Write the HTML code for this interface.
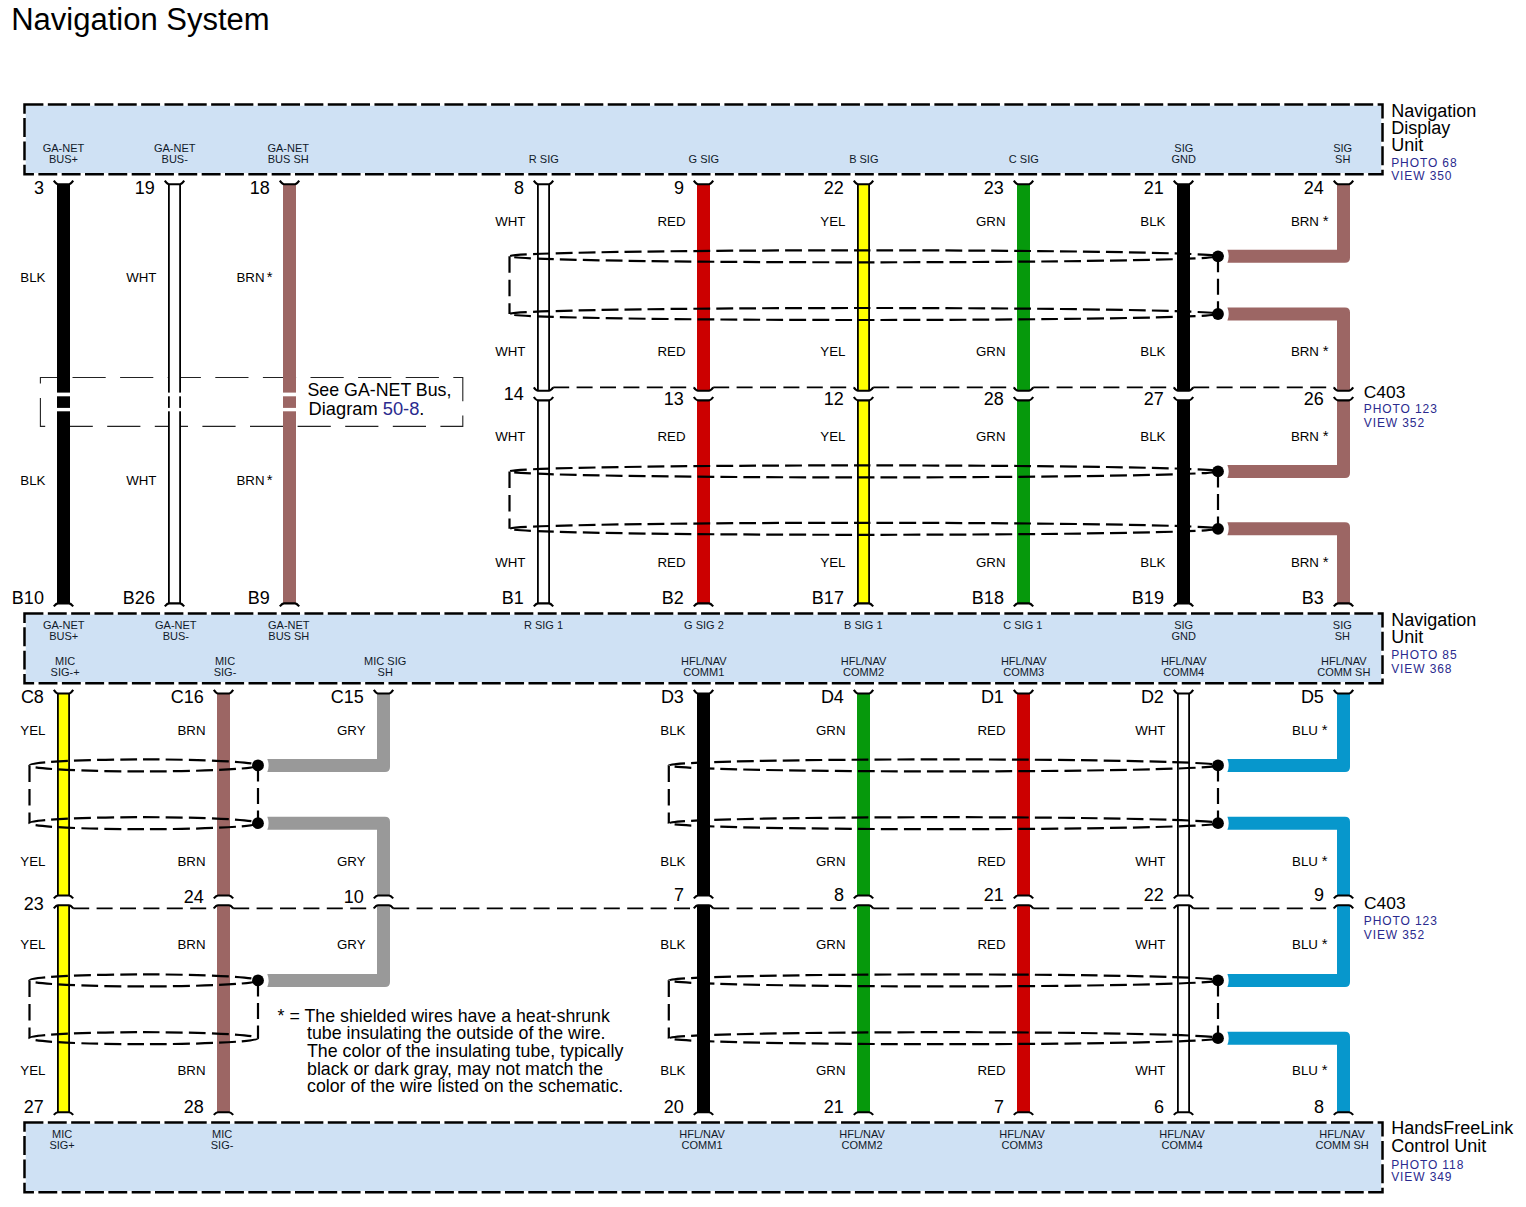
<!DOCTYPE html>
<html><head><meta charset="utf-8"><title>Navigation System</title>
<style>html,body{margin:0;padding:0;background:#fff;}svg{display:block;}</style></head>
<body><svg width="1526" height="1207" viewBox="0 0 1526 1207" font-family="'Liberation Sans', Arial, Helvetica, sans-serif">
<rect x="0" y="0" width="1526" height="1207" fill="#fff"/>
<text x="11.20" y="29.80" font-size="31" text-anchor="start" fill="#000">Navigation System</text>
<rect x="25.75" y="105.75" width="1355.5" height="67.19999999999999" fill="#cfe1f4"/>
<rect x="24.5" y="104.5" width="1358.0" height="69.69999999999999" fill="none" stroke="#000" stroke-width="2.5" stroke-dasharray="18.9 4.43"/>
<rect x="25.75" y="614.65" width="1355.5" height="67.39999999999998" fill="#cfe1f4"/>
<rect x="24.5" y="613.4" width="1358.0" height="69.89999999999998" fill="none" stroke="#000" stroke-width="2.5" stroke-dasharray="18.9 4.43"/>
<rect x="25.75" y="1123.75" width="1355.5" height="67.20000000000005" fill="#cfe1f4"/>
<rect x="24.5" y="1122.5" width="1358.0" height="69.70000000000005" fill="none" stroke="#000" stroke-width="2.5" stroke-dasharray="18.9 4.43"/>
<rect x="40.4" y="377.5" width="422.4" height="48.9" fill="none" stroke="#222" stroke-width="1.1" stroke-dasharray="33.2 14.4" stroke-dashoffset="15.5"/>
<rect x="57.0" y="184.2" width="13" height="418.90000000000003" fill="#000000"/>
<rect x="168.0" y="184.2" width="13" height="418.90000000000003" fill="#000"/>
<rect x="169.8" y="184.2" width="9.4" height="418.90000000000003" fill="#ffffff"/>
<rect x="283.0" y="184.2" width="13" height="418.90000000000003" fill="#9c6664"/>
<rect x="537.0" y="184.2" width="13" height="206.5" fill="#000"/>
<rect x="538.8" y="184.2" width="9.4" height="206.5" fill="#ffffff"/>
<rect x="537.0" y="400.4" width="13" height="202.70000000000005" fill="#000"/>
<rect x="538.8" y="400.4" width="9.4" height="202.70000000000005" fill="#ffffff"/>
<rect x="697.0" y="184.2" width="13" height="206.5" fill="#cc0000"/>
<rect x="697.0" y="400.4" width="13" height="202.70000000000005" fill="#cc0000"/>
<rect x="857.0" y="184.2" width="13" height="206.5" fill="#000"/>
<rect x="858.8" y="184.2" width="9.4" height="206.5" fill="#ffff00"/>
<rect x="857.0" y="400.4" width="13" height="202.70000000000005" fill="#000"/>
<rect x="858.8" y="400.4" width="9.4" height="202.70000000000005" fill="#ffff00"/>
<rect x="1017.0" y="184.2" width="13" height="206.5" fill="#06990c"/>
<rect x="1017.0" y="400.4" width="13" height="202.70000000000005" fill="#06990c"/>
<rect x="1177.0" y="184.2" width="13" height="206.5" fill="#000000"/>
<rect x="1177.0" y="400.4" width="13" height="202.70000000000005" fill="#000000"/>
<path d="M1350.00,184.20 L1350.00,257.80 Q1350.00,262.80 1345.00,262.80 L1227.40,262.80 Q1230.00,256.30 1227.40,249.80 L1337.00,249.80 L1337.00,184.20 Z" fill="#9c6664"/>
<path d="M1227.40,307.50 L1345.00,307.50 Q1350.00,307.50 1350.00,312.50 L1350.00,390.70 L1337.00,390.70 L1337.00,320.50 L1227.40,320.50 Q1230.00,314.00 1227.40,307.50 Z" fill="#9c6664"/>
<path d="M1350.00,400.40 L1350.00,472.90 Q1350.00,477.90 1345.00,477.90 L1227.40,477.90 Q1230.00,471.40 1227.40,464.90 L1337.00,464.90 L1337.00,400.40 Z" fill="#9c6664"/>
<path d="M1227.40,522.30 L1345.00,522.30 Q1350.00,522.30 1350.00,527.30 L1350.00,603.10 L1337.00,603.10 L1337.00,535.30 L1227.40,535.30 Q1230.00,528.80 1227.40,522.30 Z" fill="#9c6664"/>
<rect x="55.0" y="392.6" width="17" height="3.7" fill="#fff"/>
<rect x="55.0" y="407.9" width="17" height="3.4" fill="#fff"/>
<rect x="166.0" y="392.6" width="17" height="3.7" fill="#fff"/>
<rect x="166.0" y="407.9" width="17" height="3.4" fill="#fff"/>
<rect x="281.0" y="392.6" width="17" height="3.7" fill="#fff"/>
<rect x="281.0" y="407.9" width="17" height="3.4" fill="#fff"/>
<path d="M53.8,180.6 Q56.3,184.2 58.0,184.2 L69.0,184.2 Q70.7,184.2 73.2,180.6" fill="none" stroke="#000" stroke-width="2.1"/>
<path d="M53.8,606.4 Q56.3,603.4 58.0,603.4 L69.0,603.4 Q70.7,603.4 73.2,606.4" fill="none" stroke="#000" stroke-width="2.1"/>
<path d="M164.8,180.6 Q167.3,184.2 169.0,184.2 L180.0,184.2 Q181.7,184.2 184.2,180.6" fill="none" stroke="#000" stroke-width="2.1"/>
<path d="M164.8,606.4 Q167.3,603.4 169.0,603.4 L180.0,603.4 Q181.7,603.4 184.2,606.4" fill="none" stroke="#000" stroke-width="2.1"/>
<path d="M279.8,180.6 Q282.3,184.2 284.0,184.2 L295.0,184.2 Q296.7,184.2 299.2,180.6" fill="none" stroke="#000" stroke-width="2.1"/>
<path d="M279.8,606.4 Q282.3,603.4 284.0,603.4 L295.0,603.4 Q296.7,603.4 299.2,606.4" fill="none" stroke="#000" stroke-width="2.1"/>
<path d="M533.8,180.6 Q536.3,184.2 538.0,184.2 L549.0,184.2 Q550.7,184.2 553.2,180.6" fill="none" stroke="#000" stroke-width="2.1"/>
<path d="M533.8,606.4 Q536.3,603.4 538.0,603.4 L549.0,603.4 Q550.7,603.4 553.2,606.4" fill="none" stroke="#000" stroke-width="2.1"/>
<path d="M693.8,180.6 Q696.3,184.2 698.0,184.2 L709.0,184.2 Q710.7,184.2 713.2,180.6" fill="none" stroke="#000" stroke-width="2.1"/>
<path d="M693.8,606.4 Q696.3,603.4 698.0,603.4 L709.0,603.4 Q710.7,603.4 713.2,606.4" fill="none" stroke="#000" stroke-width="2.1"/>
<path d="M853.8,180.6 Q856.3,184.2 858.0,184.2 L869.0,184.2 Q870.7,184.2 873.2,180.6" fill="none" stroke="#000" stroke-width="2.1"/>
<path d="M853.8,606.4 Q856.3,603.4 858.0,603.4 L869.0,603.4 Q870.7,603.4 873.2,606.4" fill="none" stroke="#000" stroke-width="2.1"/>
<path d="M1013.8,180.6 Q1016.3,184.2 1018.0,184.2 L1029.0,184.2 Q1030.7,184.2 1033.2,180.6" fill="none" stroke="#000" stroke-width="2.1"/>
<path d="M1013.8,606.4 Q1016.3,603.4 1018.0,603.4 L1029.0,603.4 Q1030.7,603.4 1033.2,606.4" fill="none" stroke="#000" stroke-width="2.1"/>
<path d="M1173.8,180.6 Q1176.3,184.2 1178.0,184.2 L1189.0,184.2 Q1190.7,184.2 1193.2,180.6" fill="none" stroke="#000" stroke-width="2.1"/>
<path d="M1173.8,606.4 Q1176.3,603.4 1178.0,603.4 L1189.0,603.4 Q1190.7,603.4 1193.2,606.4" fill="none" stroke="#000" stroke-width="2.1"/>
<path d="M1333.8,180.6 Q1336.3,184.2 1338.0,184.2 L1349.0,184.2 Q1350.7,184.2 1353.2,180.6" fill="none" stroke="#000" stroke-width="2.1"/>
<path d="M1333.8,606.4 Q1336.3,603.4 1338.0,603.4 L1349.0,603.4 Q1350.7,603.4 1353.2,606.4" fill="none" stroke="#000" stroke-width="2.1"/>
<path d="M533.8,387.3 Q536.3,390.7 538.0,390.7 L549.0,390.7 Q550.7,390.7 553.2,387.3" fill="none" stroke="#000" stroke-width="2.1"/>
<path d="M533.8,397.0 Q536.3,400.4 538.0,400.4 L549.0,400.4 Q550.7,400.4 553.2,397.0" fill="none" stroke="#000" stroke-width="2.1"/>
<path d="M693.8,387.3 Q696.3,390.7 698.0,390.7 L709.0,390.7 Q710.7,390.7 713.2,387.3" fill="none" stroke="#000" stroke-width="2.1"/>
<path d="M693.8,397.0 Q696.3,400.4 698.0,400.4 L709.0,400.4 Q710.7,400.4 713.2,397.0" fill="none" stroke="#000" stroke-width="2.1"/>
<path d="M853.8,387.3 Q856.3,390.7 858.0,390.7 L869.0,390.7 Q870.7,390.7 873.2,387.3" fill="none" stroke="#000" stroke-width="2.1"/>
<path d="M853.8,397.0 Q856.3,400.4 858.0,400.4 L869.0,400.4 Q870.7,400.4 873.2,397.0" fill="none" stroke="#000" stroke-width="2.1"/>
<path d="M1013.8,387.3 Q1016.3,390.7 1018.0,390.7 L1029.0,390.7 Q1030.7,390.7 1033.2,387.3" fill="none" stroke="#000" stroke-width="2.1"/>
<path d="M1013.8,397.0 Q1016.3,400.4 1018.0,400.4 L1029.0,400.4 Q1030.7,400.4 1033.2,397.0" fill="none" stroke="#000" stroke-width="2.1"/>
<path d="M1173.8,387.3 Q1176.3,390.7 1178.0,390.7 L1189.0,390.7 Q1190.7,390.7 1193.2,387.3" fill="none" stroke="#000" stroke-width="2.1"/>
<path d="M1173.8,397.0 Q1176.3,400.4 1178.0,400.4 L1189.0,400.4 Q1190.7,400.4 1193.2,397.0" fill="none" stroke="#000" stroke-width="2.1"/>
<path d="M1333.8,387.3 Q1336.3,390.7 1338.0,390.7 L1349.0,390.7 Q1350.7,390.7 1353.2,387.3" fill="none" stroke="#000" stroke-width="2.1"/>
<path d="M1333.8,397.0 Q1336.3,400.4 1338.0,400.4 L1349.0,400.4 Q1350.7,400.4 1353.2,397.0" fill="none" stroke="#000" stroke-width="2.1"/>
<line x1="553.2" y1="387.3" x2="693.8" y2="387.3" stroke="#000" stroke-width="1.8" stroke-dasharray="16 7.4"/>
<line x1="713.2" y1="387.3" x2="853.8" y2="387.3" stroke="#000" stroke-width="1.8" stroke-dasharray="16 7.4"/>
<line x1="873.2" y1="387.3" x2="1013.8" y2="387.3" stroke="#000" stroke-width="1.8" stroke-dasharray="16 7.4"/>
<line x1="1033.2" y1="387.3" x2="1173.8" y2="387.3" stroke="#000" stroke-width="1.8" stroke-dasharray="16 7.4"/>
<line x1="1193.2" y1="387.3" x2="1333.8" y2="387.3" stroke="#000" stroke-width="1.8" stroke-dasharray="16 7.4"/>
<ellipse cx="863.75" cy="256.3" rx="354.25" ry="6.0" fill="none" stroke="#000" stroke-width="2.2" stroke-dasharray="16.8 6.1"/>
<ellipse cx="863.75" cy="314.0" rx="354.25" ry="6.0" fill="none" stroke="#000" stroke-width="2.2" stroke-dasharray="16.8 6.1"/>
<line x1="509.5" y1="256.3" x2="509.5" y2="314.0" stroke="#000" stroke-width="2.2" stroke-dasharray="16.5 7"/>
<line x1="1218" y1="256.3" x2="1218" y2="314.0" stroke="#000" stroke-width="2.2" stroke-dasharray="16 6.5"/>
<circle cx="1218" cy="256.3" r="5.9" fill="#000"/>
<circle cx="1218" cy="314.0" r="5.9" fill="#000"/>
<ellipse cx="863.75" cy="471.4" rx="354.25" ry="6.0" fill="none" stroke="#000" stroke-width="2.2" stroke-dasharray="16.8 6.1"/>
<ellipse cx="863.75" cy="528.8" rx="354.25" ry="6.0" fill="none" stroke="#000" stroke-width="2.2" stroke-dasharray="16.8 6.1"/>
<line x1="509.5" y1="471.4" x2="509.5" y2="528.8" stroke="#000" stroke-width="2.2" stroke-dasharray="16.5 7"/>
<line x1="1218" y1="471.4" x2="1218" y2="528.8" stroke="#000" stroke-width="2.2" stroke-dasharray="16 6.5"/>
<circle cx="1218" cy="471.4" r="5.9" fill="#000"/>
<circle cx="1218" cy="528.8" r="5.9" fill="#000"/>
<rect x="57.0" y="693.5999999999999" width="13" height="202.0000000000001" fill="#000"/>
<rect x="58.8" y="693.5999999999999" width="9.4" height="202.0000000000001" fill="#ffff00"/>
<rect x="57.0" y="905.0" width="13" height="207.20000000000005" fill="#000"/>
<rect x="58.8" y="905.0" width="9.4" height="207.20000000000005" fill="#ffff00"/>
<rect x="217.0" y="693.5999999999999" width="13" height="202.0000000000001" fill="#9c6664"/>
<rect x="217.0" y="905.0" width="13" height="207.20000000000005" fill="#9c6664"/>
<rect x="697.0" y="693.5999999999999" width="13" height="202.0000000000001" fill="#000000"/>
<rect x="697.0" y="905.0" width="13" height="207.20000000000005" fill="#000000"/>
<rect x="857.0" y="693.5999999999999" width="13" height="202.0000000000001" fill="#06990c"/>
<rect x="857.0" y="905.0" width="13" height="207.20000000000005" fill="#06990c"/>
<rect x="1017.0" y="693.5999999999999" width="13" height="202.0000000000001" fill="#cc0000"/>
<rect x="1017.0" y="905.0" width="13" height="207.20000000000005" fill="#cc0000"/>
<rect x="1177.0" y="693.5999999999999" width="13" height="202.0000000000001" fill="#000"/>
<rect x="1178.8" y="693.5999999999999" width="9.4" height="202.0000000000001" fill="#ffffff"/>
<rect x="1177.0" y="905.0" width="13" height="207.20000000000005" fill="#000"/>
<rect x="1178.8" y="905.0" width="9.4" height="207.20000000000005" fill="#ffffff"/>
<path d="M390.00,693.60 L390.00,766.90 Q390.00,771.90 385.00,771.90 L267.30,771.90 Q269.90,765.40 267.30,758.90 L377.00,758.90 L377.00,693.60 Z" fill="#999999"/>
<path d="M267.30,816.70 L385.00,816.70 Q390.00,816.70 390.00,821.70 L390.00,895.60 L377.00,895.60 L377.00,829.70 L267.30,829.70 Q269.90,823.20 267.30,816.70 Z" fill="#999999"/>
<path d="M390.00,905.00 L390.00,981.90 Q390.00,986.90 385.00,986.90 L267.30,986.90 Q269.90,980.40 267.30,973.90 L377.00,973.90 L377.00,905.00 Z" fill="#999999"/>
<path d="M1350.00,693.60 L1350.00,766.90 Q1350.00,771.90 1345.00,771.90 L1227.40,771.90 Q1230.00,765.40 1227.40,758.90 L1337.00,758.90 L1337.00,693.60 Z" fill="#0797cc"/>
<path d="M1227.40,816.70 L1345.00,816.70 Q1350.00,816.70 1350.00,821.70 L1350.00,895.60 L1337.00,895.60 L1337.00,829.70 L1227.40,829.70 Q1230.00,823.20 1227.40,816.70 Z" fill="#0797cc"/>
<path d="M1350.00,905.00 L1350.00,981.90 Q1350.00,986.90 1345.00,986.90 L1227.40,986.90 Q1230.00,980.40 1227.40,973.90 L1337.00,973.90 L1337.00,905.00 Z" fill="#0797cc"/>
<path d="M1227.40,1031.70 L1345.00,1031.70 Q1350.00,1031.70 1350.00,1036.70 L1350.00,1112.20 L1337.00,1112.20 L1337.00,1044.70 L1227.40,1044.70 Q1230.00,1038.20 1227.40,1031.70 Z" fill="#0797cc"/>
<path d="M53.8,689.9 Q56.3,693.5 58.0,693.5 L69.0,693.5 Q70.7,693.5 73.2,689.9" fill="none" stroke="#000" stroke-width="2.1"/>
<path d="M53.8,898.4 Q56.3,895.5 58.0,895.5 L69.0,895.5 Q70.7,895.5 73.2,898.4" fill="none" stroke="#000" stroke-width="2.1"/>
<path d="M53.8,908.3 Q56.3,905.1999999999999 58.0,905.1999999999999 L69.0,905.1999999999999 Q70.7,905.1999999999999 73.2,908.3" fill="none" stroke="#000" stroke-width="2.1"/>
<path d="M213.8,689.9 Q216.3,693.5 218.0,693.5 L229.0,693.5 Q230.7,693.5 233.2,689.9" fill="none" stroke="#000" stroke-width="2.1"/>
<path d="M213.8,898.4 Q216.3,895.5 218.0,895.5 L229.0,895.5 Q230.7,895.5 233.2,898.4" fill="none" stroke="#000" stroke-width="2.1"/>
<path d="M213.8,908.3 Q216.3,905.1999999999999 218.0,905.1999999999999 L229.0,905.1999999999999 Q230.7,905.1999999999999 233.2,908.3" fill="none" stroke="#000" stroke-width="2.1"/>
<path d="M373.8,689.9 Q376.3,693.5 378.0,693.5 L389.0,693.5 Q390.7,693.5 393.2,689.9" fill="none" stroke="#000" stroke-width="2.1"/>
<path d="M373.8,898.4 Q376.3,895.5 378.0,895.5 L389.0,895.5 Q390.7,895.5 393.2,898.4" fill="none" stroke="#000" stroke-width="2.1"/>
<path d="M373.8,908.3 Q376.3,905.1999999999999 378.0,905.1999999999999 L389.0,905.1999999999999 Q390.7,905.1999999999999 393.2,908.3" fill="none" stroke="#000" stroke-width="2.1"/>
<path d="M693.8,689.9 Q696.3,693.5 698.0,693.5 L709.0,693.5 Q710.7,693.5 713.2,689.9" fill="none" stroke="#000" stroke-width="2.1"/>
<path d="M693.8,898.4 Q696.3,895.5 698.0,895.5 L709.0,895.5 Q710.7,895.5 713.2,898.4" fill="none" stroke="#000" stroke-width="2.1"/>
<path d="M693.8,908.3 Q696.3,905.1999999999999 698.0,905.1999999999999 L709.0,905.1999999999999 Q710.7,905.1999999999999 713.2,908.3" fill="none" stroke="#000" stroke-width="2.1"/>
<path d="M853.8,689.9 Q856.3,693.5 858.0,693.5 L869.0,693.5 Q870.7,693.5 873.2,689.9" fill="none" stroke="#000" stroke-width="2.1"/>
<path d="M853.8,898.4 Q856.3,895.5 858.0,895.5 L869.0,895.5 Q870.7,895.5 873.2,898.4" fill="none" stroke="#000" stroke-width="2.1"/>
<path d="M853.8,908.3 Q856.3,905.1999999999999 858.0,905.1999999999999 L869.0,905.1999999999999 Q870.7,905.1999999999999 873.2,908.3" fill="none" stroke="#000" stroke-width="2.1"/>
<path d="M1013.8,689.9 Q1016.3,693.5 1018.0,693.5 L1029.0,693.5 Q1030.7,693.5 1033.2,689.9" fill="none" stroke="#000" stroke-width="2.1"/>
<path d="M1013.8,898.4 Q1016.3,895.5 1018.0,895.5 L1029.0,895.5 Q1030.7,895.5 1033.2,898.4" fill="none" stroke="#000" stroke-width="2.1"/>
<path d="M1013.8,908.3 Q1016.3,905.1999999999999 1018.0,905.1999999999999 L1029.0,905.1999999999999 Q1030.7,905.1999999999999 1033.2,908.3" fill="none" stroke="#000" stroke-width="2.1"/>
<path d="M1173.8,689.9 Q1176.3,693.5 1178.0,693.5 L1189.0,693.5 Q1190.7,693.5 1193.2,689.9" fill="none" stroke="#000" stroke-width="2.1"/>
<path d="M1173.8,898.4 Q1176.3,895.5 1178.0,895.5 L1189.0,895.5 Q1190.7,895.5 1193.2,898.4" fill="none" stroke="#000" stroke-width="2.1"/>
<path d="M1173.8,908.3 Q1176.3,905.1999999999999 1178.0,905.1999999999999 L1189.0,905.1999999999999 Q1190.7,905.1999999999999 1193.2,908.3" fill="none" stroke="#000" stroke-width="2.1"/>
<path d="M1333.8,689.9 Q1336.3,693.5 1338.0,693.5 L1349.0,693.5 Q1350.7,693.5 1353.2,689.9" fill="none" stroke="#000" stroke-width="2.1"/>
<path d="M1333.8,898.4 Q1336.3,895.5 1338.0,895.5 L1349.0,895.5 Q1350.7,895.5 1353.2,898.4" fill="none" stroke="#000" stroke-width="2.1"/>
<path d="M1333.8,908.3 Q1336.3,905.1999999999999 1338.0,905.1999999999999 L1349.0,905.1999999999999 Q1350.7,905.1999999999999 1353.2,908.3" fill="none" stroke="#000" stroke-width="2.1"/>
<path d="M53.8,1114.9 Q56.3,1112.2 58.0,1112.2 L69.0,1112.2 Q70.7,1112.2 73.2,1114.9" fill="none" stroke="#000" stroke-width="2.1"/>
<path d="M213.8,1114.9 Q216.3,1112.2 218.0,1112.2 L229.0,1112.2 Q230.7,1112.2 233.2,1114.9" fill="none" stroke="#000" stroke-width="2.1"/>
<path d="M693.8,1114.9 Q696.3,1112.2 698.0,1112.2 L709.0,1112.2 Q710.7,1112.2 713.2,1114.9" fill="none" stroke="#000" stroke-width="2.1"/>
<path d="M853.8,1114.9 Q856.3,1112.2 858.0,1112.2 L869.0,1112.2 Q870.7,1112.2 873.2,1114.9" fill="none" stroke="#000" stroke-width="2.1"/>
<path d="M1013.8,1114.9 Q1016.3,1112.2 1018.0,1112.2 L1029.0,1112.2 Q1030.7,1112.2 1033.2,1114.9" fill="none" stroke="#000" stroke-width="2.1"/>
<path d="M1173.8,1114.9 Q1176.3,1112.2 1178.0,1112.2 L1189.0,1112.2 Q1190.7,1112.2 1193.2,1114.9" fill="none" stroke="#000" stroke-width="2.1"/>
<path d="M1333.8,1114.9 Q1336.3,1112.2 1338.0,1112.2 L1349.0,1112.2 Q1350.7,1112.2 1353.2,1114.9" fill="none" stroke="#000" stroke-width="2.1"/>
<line x1="73.2" y1="908.4" x2="213.8" y2="908.4" stroke="#000" stroke-width="1.8" stroke-dasharray="16 7.4"/>
<line x1="233.2" y1="908.4" x2="373.8" y2="908.4" stroke="#000" stroke-width="1.8" stroke-dasharray="16 7.4"/>
<line x1="393.2" y1="908.4" x2="693.8" y2="908.4" stroke="#000" stroke-width="1.8" stroke-dasharray="16 7.4"/>
<line x1="713.2" y1="908.4" x2="853.8" y2="908.4" stroke="#000" stroke-width="1.8" stroke-dasharray="16 7.4"/>
<line x1="873.2" y1="908.4" x2="1013.8" y2="908.4" stroke="#000" stroke-width="1.8" stroke-dasharray="16 7.4"/>
<line x1="1033.2" y1="908.4" x2="1173.8" y2="908.4" stroke="#000" stroke-width="1.8" stroke-dasharray="16 7.4"/>
<line x1="1193.2" y1="908.4" x2="1333.8" y2="908.4" stroke="#000" stroke-width="1.8" stroke-dasharray="16 7.4"/>
<ellipse cx="143.75" cy="765.4" rx="114.25" ry="6.0" fill="none" stroke="#000" stroke-width="2.2" stroke-dasharray="16.8 6.1"/>
<ellipse cx="143.75" cy="823.2" rx="114.25" ry="6.0" fill="none" stroke="#000" stroke-width="2.2" stroke-dasharray="16.8 6.1"/>
<line x1="29.5" y1="765.4" x2="29.5" y2="823.2" stroke="#000" stroke-width="2.2" stroke-dasharray="16.5 7"/>
<line x1="258" y1="765.4" x2="258" y2="823.2" stroke="#000" stroke-width="2.2" stroke-dasharray="16 6.5"/>
<circle cx="258" cy="765.4" r="5.9" fill="#000"/>
<circle cx="258" cy="823.2" r="5.9" fill="#000"/>
<ellipse cx="143.75" cy="980.4" rx="114.25" ry="6.0" fill="none" stroke="#000" stroke-width="2.2" stroke-dasharray="16.8 6.1"/>
<ellipse cx="143.75" cy="1038.2" rx="114.25" ry="6.0" fill="none" stroke="#000" stroke-width="2.2" stroke-dasharray="16.8 6.1"/>
<line x1="29.5" y1="980.4" x2="29.5" y2="1038.2" stroke="#000" stroke-width="2.2" stroke-dasharray="16.5 7"/>
<line x1="258" y1="980.4" x2="258" y2="1038.2" stroke="#000" stroke-width="2.2" stroke-dasharray="16 6.5"/>
<circle cx="258" cy="980.4" r="5.9" fill="#000"/>
<ellipse cx="943.4" cy="765.4" rx="274.6" ry="6.0" fill="none" stroke="#000" stroke-width="2.2" stroke-dasharray="16.8 6.1"/>
<ellipse cx="943.4" cy="823.2" rx="274.6" ry="6.0" fill="none" stroke="#000" stroke-width="2.2" stroke-dasharray="16.8 6.1"/>
<line x1="668.8" y1="765.4" x2="668.8" y2="823.2" stroke="#000" stroke-width="2.2" stroke-dasharray="16.5 7"/>
<line x1="1218" y1="765.4" x2="1218" y2="823.2" stroke="#000" stroke-width="2.2" stroke-dasharray="16 6.5"/>
<circle cx="1218" cy="765.4" r="5.9" fill="#000"/>
<circle cx="1218" cy="823.2" r="5.9" fill="#000"/>
<ellipse cx="943.4" cy="980.4" rx="274.6" ry="6.0" fill="none" stroke="#000" stroke-width="2.2" stroke-dasharray="16.8 6.1"/>
<ellipse cx="943.4" cy="1038.2" rx="274.6" ry="6.0" fill="none" stroke="#000" stroke-width="2.2" stroke-dasharray="16.8 6.1"/>
<line x1="668.8" y1="980.4" x2="668.8" y2="1038.2" stroke="#000" stroke-width="2.2" stroke-dasharray="16.5 7"/>
<line x1="1218" y1="980.4" x2="1218" y2="1038.2" stroke="#000" stroke-width="2.2" stroke-dasharray="16 6.5"/>
<circle cx="1218" cy="980.4" r="5.9" fill="#000"/>
<circle cx="1218" cy="1038.2" r="5.9" fill="#000"/>
<text x="63.50" y="151.60" font-size="11" text-anchor="middle" fill="#111a2a">GA-NET</text>
<text x="63.50" y="163.40" font-size="11" text-anchor="middle" fill="#111a2a">BUS+</text>
<text x="174.70" y="151.60" font-size="11" text-anchor="middle" fill="#111a2a">GA-NET</text>
<text x="174.70" y="163.40" font-size="11" text-anchor="middle" fill="#111a2a">BUS-</text>
<text x="288.20" y="151.60" font-size="11" text-anchor="middle" fill="#111a2a">GA-NET</text>
<text x="288.20" y="163.40" font-size="11" text-anchor="middle" fill="#111a2a">BUS SH</text>
<text x="543.80" y="163.00" font-size="11" text-anchor="middle" fill="#111a2a">R SIG</text>
<text x="703.80" y="163.00" font-size="11" text-anchor="middle" fill="#111a2a">G SIG</text>
<text x="863.80" y="163.00" font-size="11" text-anchor="middle" fill="#111a2a">B SIG</text>
<text x="1023.80" y="163.00" font-size="11" text-anchor="middle" fill="#111a2a">C SIG</text>
<text x="1183.80" y="151.60" font-size="11" text-anchor="middle" fill="#111a2a">SIG</text>
<text x="1183.80" y="163.40" font-size="11" text-anchor="middle" fill="#111a2a">GND</text>
<text x="1342.70" y="151.60" font-size="11" text-anchor="middle" fill="#111a2a">SIG</text>
<text x="1342.70" y="163.40" font-size="11" text-anchor="middle" fill="#111a2a">SH</text>
<text x="1391.20" y="116.70" font-size="18.0" text-anchor="start" fill="#000">Navigation</text>
<text x="1391.20" y="134.30" font-size="18.0" text-anchor="start" fill="#000">Display</text>
<text x="1391.20" y="151.40" font-size="18.0" text-anchor="start" fill="#000">Unit</text>
<text x="1391.20" y="167.30" font-size="12" text-anchor="start" fill="#2a2a8e" letter-spacing="0.9">PHOTO 68</text>
<text x="1391.20" y="180.30" font-size="12" text-anchor="start" fill="#2a2a8e" letter-spacing="0.9">VIEW 350</text>
<text x="1391.20" y="626.30" font-size="18.0" text-anchor="start" fill="#000">Navigation</text>
<text x="1391.20" y="643.30" font-size="18.0" text-anchor="start" fill="#000">Unit</text>
<text x="1391.20" y="659.00" font-size="12" text-anchor="start" fill="#2a2a8e" letter-spacing="0.9">PHOTO 85</text>
<text x="1391.20" y="673.00" font-size="12" text-anchor="start" fill="#2a2a8e" letter-spacing="0.9">VIEW 368</text>
<text x="1391.20" y="1134.30" font-size="18.0" text-anchor="start" fill="#000">HandsFreeLink</text>
<text x="1391.20" y="1152.30" font-size="18.0" text-anchor="start" fill="#000">Control Unit</text>
<text x="1391.20" y="1168.70" font-size="12" text-anchor="start" fill="#2a2a8e" letter-spacing="0.9">PHOTO 118</text>
<text x="1391.20" y="1181.30" font-size="12" text-anchor="start" fill="#2a2a8e" letter-spacing="0.9">VIEW 349</text>
<text x="43.90" y="193.90" font-size="18.0" text-anchor="end" fill="#000">3</text>
<text x="154.90" y="193.90" font-size="18.0" text-anchor="end" fill="#000">19</text>
<text x="269.90" y="193.90" font-size="18.0" text-anchor="end" fill="#000">18</text>
<text x="523.90" y="193.90" font-size="18.0" text-anchor="end" fill="#000">8</text>
<text x="683.90" y="193.90" font-size="18.0" text-anchor="end" fill="#000">9</text>
<text x="843.90" y="193.90" font-size="18.0" text-anchor="end" fill="#000">22</text>
<text x="1003.90" y="193.90" font-size="18.0" text-anchor="end" fill="#000">23</text>
<text x="1163.90" y="193.90" font-size="18.0" text-anchor="end" fill="#000">21</text>
<text x="1323.90" y="193.90" font-size="18.0" text-anchor="end" fill="#000">24</text>
<text x="43.90" y="603.70" font-size="18.0" text-anchor="end" fill="#000">B10</text>
<text x="154.90" y="603.70" font-size="18.0" text-anchor="end" fill="#000">B26</text>
<text x="269.90" y="603.70" font-size="18.0" text-anchor="end" fill="#000">B9</text>
<text x="523.90" y="603.70" font-size="18.0" text-anchor="end" fill="#000">B1</text>
<text x="683.90" y="603.70" font-size="18.0" text-anchor="end" fill="#000">B2</text>
<text x="843.90" y="603.70" font-size="18.0" text-anchor="end" fill="#000">B17</text>
<text x="1003.90" y="603.70" font-size="18.0" text-anchor="end" fill="#000">B18</text>
<text x="1163.90" y="603.70" font-size="18.0" text-anchor="end" fill="#000">B19</text>
<text x="1323.90" y="603.70" font-size="18.0" text-anchor="end" fill="#000">B3</text>
<text x="523.90" y="399.90" font-size="18.0" text-anchor="end" fill="#000">14</text>
<text x="683.90" y="404.60" font-size="18.0" text-anchor="end" fill="#000">13</text>
<text x="843.90" y="404.60" font-size="18.0" text-anchor="end" fill="#000">12</text>
<text x="1003.90" y="404.60" font-size="18.0" text-anchor="end" fill="#000">28</text>
<text x="1163.90" y="404.60" font-size="18.0" text-anchor="end" fill="#000">27</text>
<text x="1323.90" y="404.60" font-size="18.0" text-anchor="end" fill="#000">26</text>
<text x="45.50" y="282.20" font-size="13.3" text-anchor="end" fill="#000">BLK</text>
<text x="45.50" y="485.00" font-size="13.3" text-anchor="end" fill="#000">BLK</text>
<text x="156.50" y="282.20" font-size="13.3" text-anchor="end" fill="#000">WHT</text>
<text x="156.50" y="485.00" font-size="13.3" text-anchor="end" fill="#000">WHT</text>
<text x="272.45" y="282.20" font-size="13.3" text-anchor="end" xml:space="preserve">BRN<tspan dx="2.2" font-size="14.8">*</tspan></text>
<text x="272.45" y="485.00" font-size="13.3" text-anchor="end" xml:space="preserve">BRN<tspan dx="2.2" font-size="14.8">*</tspan></text>
<text x="525.50" y="226.00" font-size="13.3" text-anchor="end" fill="#000">WHT</text>
<text x="525.50" y="356.20" font-size="13.3" text-anchor="end" fill="#000">WHT</text>
<text x="525.50" y="440.90" font-size="13.3" text-anchor="end" fill="#000">WHT</text>
<text x="525.50" y="566.70" font-size="13.3" text-anchor="end" fill="#000">WHT</text>
<text x="685.50" y="226.00" font-size="13.3" text-anchor="end" fill="#000">RED</text>
<text x="685.50" y="356.20" font-size="13.3" text-anchor="end" fill="#000">RED</text>
<text x="685.50" y="440.90" font-size="13.3" text-anchor="end" fill="#000">RED</text>
<text x="685.50" y="566.70" font-size="13.3" text-anchor="end" fill="#000">RED</text>
<text x="845.50" y="226.00" font-size="13.3" text-anchor="end" fill="#000">YEL</text>
<text x="845.50" y="356.20" font-size="13.3" text-anchor="end" fill="#000">YEL</text>
<text x="845.50" y="440.90" font-size="13.3" text-anchor="end" fill="#000">YEL</text>
<text x="845.50" y="566.70" font-size="13.3" text-anchor="end" fill="#000">YEL</text>
<text x="1005.50" y="226.00" font-size="13.3" text-anchor="end" fill="#000">GRN</text>
<text x="1005.50" y="356.20" font-size="13.3" text-anchor="end" fill="#000">GRN</text>
<text x="1005.50" y="440.90" font-size="13.3" text-anchor="end" fill="#000">GRN</text>
<text x="1005.50" y="566.70" font-size="13.3" text-anchor="end" fill="#000">GRN</text>
<text x="1165.50" y="226.00" font-size="13.3" text-anchor="end" fill="#000">BLK</text>
<text x="1165.50" y="356.20" font-size="13.3" text-anchor="end" fill="#000">BLK</text>
<text x="1165.50" y="440.90" font-size="13.3" text-anchor="end" fill="#000">BLK</text>
<text x="1165.50" y="566.70" font-size="13.3" text-anchor="end" fill="#000">BLK</text>
<text x="1328.45" y="226.00" font-size="13.3" text-anchor="end" xml:space="preserve">BRN <tspan font-size="14.8">*</tspan></text>
<text x="1328.45" y="356.20" font-size="13.3" text-anchor="end" xml:space="preserve">BRN <tspan font-size="14.8">*</tspan></text>
<text x="1328.45" y="440.90" font-size="13.3" text-anchor="end" xml:space="preserve">BRN <tspan font-size="14.8">*</tspan></text>
<text x="1328.45" y="566.70" font-size="13.3" text-anchor="end" xml:space="preserve">BRN <tspan font-size="14.8">*</tspan></text>
<text x="1363.80" y="398.40" font-size="17.4" text-anchor="start" fill="#000">C403</text>
<text x="1363.80" y="413.30" font-size="12" text-anchor="start" fill="#2a2a8e" letter-spacing="0.9">PHOTO 123</text>
<text x="1363.80" y="427.30" font-size="12" text-anchor="start" fill="#2a2a8e" letter-spacing="0.9">VIEW 352</text>
<text x="1364.00" y="909.40" font-size="17.4" text-anchor="start" fill="#000">C403</text>
<text x="1363.80" y="925.00" font-size="12" text-anchor="start" fill="#2a2a8e" letter-spacing="0.9">PHOTO 123</text>
<text x="1363.80" y="938.60" font-size="12" text-anchor="start" fill="#2a2a8e" letter-spacing="0.9">VIEW 352</text>
<text x="307.50" y="396.40" font-size="17.8" text-anchor="start" fill="#000">See GA-NET Bus,</text>
<text x="308.6" y="415.4" font-size="18.3">Diagram <tspan fill="#2a2a8e">50-8</tspan>.</text>
<text x="63.70" y="628.70" font-size="11" text-anchor="middle" fill="#111a2a">GA-NET</text>
<text x="63.70" y="639.80" font-size="11" text-anchor="middle" fill="#111a2a">BUS+</text>
<text x="175.80" y="628.70" font-size="11" text-anchor="middle" fill="#111a2a">GA-NET</text>
<text x="175.80" y="639.80" font-size="11" text-anchor="middle" fill="#111a2a">BUS-</text>
<text x="288.80" y="628.70" font-size="11" text-anchor="middle" fill="#111a2a">GA-NET</text>
<text x="288.80" y="639.80" font-size="11" text-anchor="middle" fill="#111a2a">BUS SH</text>
<text x="543.50" y="628.70" font-size="11" text-anchor="middle" fill="#111a2a">R SIG 1</text>
<text x="703.90" y="628.70" font-size="11" text-anchor="middle" fill="#111a2a">G SIG 2</text>
<text x="863.30" y="628.70" font-size="11" text-anchor="middle" fill="#111a2a">B SIG 1</text>
<text x="1022.90" y="628.70" font-size="11" text-anchor="middle" fill="#111a2a">C SIG 1</text>
<text x="1183.70" y="628.70" font-size="11" text-anchor="middle" fill="#111a2a">SIG</text>
<text x="1183.70" y="639.80" font-size="11" text-anchor="middle" fill="#111a2a">GND</text>
<text x="1342.30" y="628.70" font-size="11" text-anchor="middle" fill="#111a2a">SIG</text>
<text x="1342.30" y="639.80" font-size="11" text-anchor="middle" fill="#111a2a">SH</text>
<text x="65.10" y="664.50" font-size="11" text-anchor="middle" fill="#111a2a">MIC</text>
<text x="65.10" y="675.60" font-size="11" text-anchor="middle" fill="#111a2a">SIG-+</text>
<text x="225.00" y="664.50" font-size="11" text-anchor="middle" fill="#111a2a">MIC</text>
<text x="225.00" y="675.60" font-size="11" text-anchor="middle" fill="#111a2a">SIG-</text>
<text x="385.20" y="664.50" font-size="11" text-anchor="middle" fill="#111a2a">MIC SIG</text>
<text x="385.20" y="675.60" font-size="11" text-anchor="middle" fill="#111a2a">SH</text>
<text x="703.80" y="664.50" font-size="11" text-anchor="middle" fill="#111a2a">HFL/NAV</text>
<text x="703.80" y="675.60" font-size="11" text-anchor="middle" fill="#111a2a">COMM1</text>
<text x="863.60" y="664.50" font-size="11" text-anchor="middle" fill="#111a2a">HFL/NAV</text>
<text x="863.60" y="675.60" font-size="11" text-anchor="middle" fill="#111a2a">COMM2</text>
<text x="1023.70" y="664.50" font-size="11" text-anchor="middle" fill="#111a2a">HFL/NAV</text>
<text x="1023.70" y="675.60" font-size="11" text-anchor="middle" fill="#111a2a">COMM3</text>
<text x="1183.70" y="664.50" font-size="11" text-anchor="middle" fill="#111a2a">HFL/NAV</text>
<text x="1183.70" y="675.60" font-size="11" text-anchor="middle" fill="#111a2a">COMM4</text>
<text x="1343.80" y="664.50" font-size="11" text-anchor="middle" fill="#111a2a">HFL/NAV</text>
<text x="1343.80" y="675.60" font-size="11" text-anchor="middle" fill="#111a2a">COMM SH</text>
<text x="43.90" y="703.00" font-size="18.0" text-anchor="end" fill="#000">C8</text>
<text x="203.90" y="703.00" font-size="18.0" text-anchor="end" fill="#000">C16</text>
<text x="363.90" y="703.00" font-size="18.0" text-anchor="end" fill="#000">C15</text>
<text x="683.90" y="703.00" font-size="18.0" text-anchor="end" fill="#000">D3</text>
<text x="843.90" y="703.00" font-size="18.0" text-anchor="end" fill="#000">D4</text>
<text x="1003.90" y="703.00" font-size="18.0" text-anchor="end" fill="#000">D1</text>
<text x="1163.90" y="703.00" font-size="18.0" text-anchor="end" fill="#000">D2</text>
<text x="1323.90" y="703.00" font-size="18.0" text-anchor="end" fill="#000">D5</text>
<text x="43.90" y="909.70" font-size="18.0" text-anchor="end" fill="#000">23</text>
<text x="203.90" y="902.50" font-size="18.0" text-anchor="end" fill="#000">24</text>
<text x="363.90" y="902.50" font-size="18.0" text-anchor="end" fill="#000">10</text>
<text x="683.90" y="900.60" font-size="18.0" text-anchor="end" fill="#000">7</text>
<text x="843.90" y="900.60" font-size="18.0" text-anchor="end" fill="#000">8</text>
<text x="1003.90" y="900.60" font-size="18.0" text-anchor="end" fill="#000">21</text>
<text x="1163.90" y="900.60" font-size="18.0" text-anchor="end" fill="#000">22</text>
<text x="1323.90" y="900.60" font-size="18.0" text-anchor="end" fill="#000">9</text>
<text x="43.90" y="1112.70" font-size="18.0" text-anchor="end" fill="#000">27</text>
<text x="203.90" y="1112.70" font-size="18.0" text-anchor="end" fill="#000">28</text>
<text x="683.90" y="1112.70" font-size="18.0" text-anchor="end" fill="#000">20</text>
<text x="843.90" y="1112.70" font-size="18.0" text-anchor="end" fill="#000">21</text>
<text x="1003.90" y="1112.70" font-size="18.0" text-anchor="end" fill="#000">7</text>
<text x="1163.90" y="1112.70" font-size="18.0" text-anchor="end" fill="#000">6</text>
<text x="1323.90" y="1112.70" font-size="18.0" text-anchor="end" fill="#000">8</text>
<text x="45.50" y="734.60" font-size="13.3" text-anchor="end" fill="#000">YEL</text>
<text x="45.50" y="866.00" font-size="13.3" text-anchor="end" fill="#000">YEL</text>
<text x="45.50" y="949.40" font-size="13.3" text-anchor="end" fill="#000">YEL</text>
<text x="45.50" y="1075.40" font-size="13.3" text-anchor="end" fill="#000">YEL</text>
<text x="205.50" y="734.60" font-size="13.3" text-anchor="end" fill="#000">BRN</text>
<text x="205.50" y="866.00" font-size="13.3" text-anchor="end" fill="#000">BRN</text>
<text x="205.50" y="949.40" font-size="13.3" text-anchor="end" fill="#000">BRN</text>
<text x="205.50" y="1075.40" font-size="13.3" text-anchor="end" fill="#000">BRN</text>
<text x="365.50" y="734.60" font-size="13.3" text-anchor="end" fill="#000">GRY</text>
<text x="365.50" y="866.00" font-size="13.3" text-anchor="end" fill="#000">GRY</text>
<text x="365.50" y="949.40" font-size="13.3" text-anchor="end" fill="#000">GRY</text>
<text x="685.50" y="734.60" font-size="13.3" text-anchor="end" fill="#000">BLK</text>
<text x="685.50" y="866.00" font-size="13.3" text-anchor="end" fill="#000">BLK</text>
<text x="685.50" y="949.40" font-size="13.3" text-anchor="end" fill="#000">BLK</text>
<text x="685.50" y="1075.40" font-size="13.3" text-anchor="end" fill="#000">BLK</text>
<text x="845.50" y="734.60" font-size="13.3" text-anchor="end" fill="#000">GRN</text>
<text x="845.50" y="866.00" font-size="13.3" text-anchor="end" fill="#000">GRN</text>
<text x="845.50" y="949.40" font-size="13.3" text-anchor="end" fill="#000">GRN</text>
<text x="845.50" y="1075.40" font-size="13.3" text-anchor="end" fill="#000">GRN</text>
<text x="1005.50" y="734.60" font-size="13.3" text-anchor="end" fill="#000">RED</text>
<text x="1005.50" y="866.00" font-size="13.3" text-anchor="end" fill="#000">RED</text>
<text x="1005.50" y="949.40" font-size="13.3" text-anchor="end" fill="#000">RED</text>
<text x="1005.50" y="1075.40" font-size="13.3" text-anchor="end" fill="#000">RED</text>
<text x="1165.50" y="734.60" font-size="13.3" text-anchor="end" fill="#000">WHT</text>
<text x="1165.50" y="866.00" font-size="13.3" text-anchor="end" fill="#000">WHT</text>
<text x="1165.50" y="949.40" font-size="13.3" text-anchor="end" fill="#000">WHT</text>
<text x="1165.50" y="1075.40" font-size="13.3" text-anchor="end" fill="#000">WHT</text>
<text x="1327.45" y="734.60" font-size="13.3" text-anchor="end" xml:space="preserve">BLU <tspan font-size="14.8">*</tspan></text>
<text x="1327.45" y="866.00" font-size="13.3" text-anchor="end" xml:space="preserve">BLU <tspan font-size="14.8">*</tspan></text>
<text x="1327.45" y="949.40" font-size="13.3" text-anchor="end" xml:space="preserve">BLU <tspan font-size="14.8">*</tspan></text>
<text x="1327.45" y="1075.40" font-size="13.3" text-anchor="end" xml:space="preserve">BLU <tspan font-size="14.8">*</tspan></text>
<text x="62.10" y="1137.70" font-size="11" text-anchor="middle" fill="#111a2a">MIC</text>
<text x="62.10" y="1148.80" font-size="11" text-anchor="middle" fill="#111a2a">SIG+</text>
<text x="222.10" y="1137.70" font-size="11" text-anchor="middle" fill="#111a2a">MIC</text>
<text x="222.10" y="1148.80" font-size="11" text-anchor="middle" fill="#111a2a">SIG-</text>
<text x="702.10" y="1137.70" font-size="11" text-anchor="middle" fill="#111a2a">HFL/NAV</text>
<text x="702.10" y="1148.80" font-size="11" text-anchor="middle" fill="#111a2a">COMM1</text>
<text x="862.10" y="1137.70" font-size="11" text-anchor="middle" fill="#111a2a">HFL/NAV</text>
<text x="862.10" y="1148.80" font-size="11" text-anchor="middle" fill="#111a2a">COMM2</text>
<text x="1022.10" y="1137.70" font-size="11" text-anchor="middle" fill="#111a2a">HFL/NAV</text>
<text x="1022.10" y="1148.80" font-size="11" text-anchor="middle" fill="#111a2a">COMM3</text>
<text x="1182.10" y="1137.70" font-size="11" text-anchor="middle" fill="#111a2a">HFL/NAV</text>
<text x="1182.10" y="1148.80" font-size="11" text-anchor="middle" fill="#111a2a">COMM4</text>
<text x="1342.10" y="1137.70" font-size="11" text-anchor="middle" fill="#111a2a">HFL/NAV</text>
<text x="1342.10" y="1148.80" font-size="11" text-anchor="middle" fill="#111a2a">COMM SH</text>
<text x="277.60" y="1021.80" font-size="17.8" text-anchor="start" fill="#000">* = The shielded wires have a heat-shrunk</text>
<text x="307.00" y="1039.40" font-size="17.8" text-anchor="start" fill="#000">tube insulating the outside of the wire.</text>
<text x="307.00" y="1057.00" font-size="17.8" text-anchor="start" fill="#000">The color of the insulating tube, typically</text>
<text x="307.00" y="1074.60" font-size="17.8" text-anchor="start" fill="#000">black or dark gray, may not match the</text>
<text x="307.00" y="1092.20" font-size="17.8" text-anchor="start" fill="#000">color of the wire listed on the schematic.</text>
</svg></body></html>
